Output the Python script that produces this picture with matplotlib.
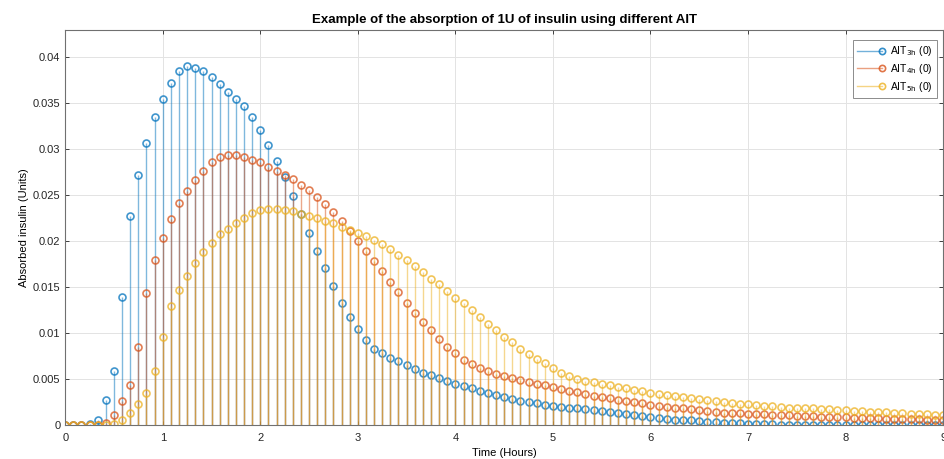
import numpy as np
import matplotlib
matplotlib.use('Agg')
import matplotlib.pyplot as plt
from matplotlib.lines import Line2D
from matplotlib.legend_handler import HandlerBase
from matplotlib.ticker import FuncFormatter

# sample grid: one sample every 5 minutes over 9 hours
minutes = np.arange(0, 545, 5)
time_h = minutes / 60.0

ait_3h = [
    0, 0, 0, 0.0001, 0.0006, 0.0027, 0.0059, 0.0139, 0.0227, 0.0271,
    0.0306, 0.0334, 0.0354, 0.0371, 0.0384, 0.0390, 0.0388, 0.0384, 0.0378, 0.0370,
    0.0362, 0.0354, 0.0346, 0.0334, 0.0320, 0.0304, 0.0287, 0.0269, 0.0249, 0.0229,
    0.0209, 0.0189, 0.0170, 0.0151, 0.0133, 0.0117, 0.0104, 0.0092, 0.0083, 0.0078,
    0.0073, 0.0069, 0.0065, 0.0061, 0.0057, 0.0054, 0.0051, 0.0048, 0.0045, 0.0042,
    0.0040, 0.0037, 0.0035, 0.0033, 0.0030, 0.0028, 0.0026, 0.0025, 0.0024, 0.0022,
    0.0021, 0.0020, 0.0019, 0.0018, 0.0017, 0.0016, 0.0015, 0.0014, 0.0013, 0.0012,
    0.0011, 0.0010, 0.0009, 0.0008, 0.0007, 0.0006, 0.0005, 0.0005, 0.0004, 0.0003,
    0.0003, 0.0002, 0.0002, 0.0002, 0.0001, 0.0001, 0.0001, 0.0001, 0, 0,
    0, 0, 0, 0, 0, 0, 0, 0, 0, 0,
    0, 0, 0, 0, 0, 0, 0, 0, 0,
]

ait_4h = [
    0, 0, 0, 0, 0, 0.0002, 0.0011, 0.0026, 0.0044, 0.0085,
    0.0143, 0.0179, 0.0203, 0.0224, 0.0241, 0.0254, 0.0266, 0.0276, 0.0285, 0.0291,
    0.0293, 0.0293, 0.0291, 0.0288, 0.0285, 0.0280, 0.0276, 0.0271, 0.0267, 0.0261,
    0.0255, 0.0248, 0.0240, 0.0231, 0.0221, 0.0211, 0.0200, 0.0189, 0.0178, 0.0167,
    0.0155, 0.0144, 0.0133, 0.0122, 0.0112, 0.0103, 0.0093, 0.0085, 0.0078, 0.0071,
    0.0066, 0.0062, 0.0059, 0.0055, 0.0053, 0.0051, 0.0049, 0.0047, 0.0045, 0.0043,
    0.0041, 0.0039, 0.0037, 0.0036, 0.0034, 0.0032, 0.0030, 0.0029, 0.0027, 0.0026,
    0.0025, 0.0024, 0.0022, 0.0021, 0.0020, 0.0019, 0.0018, 0.0017, 0.0016, 0.0015,
    0.0014, 0.0013, 0.0013, 0.0013, 0.0012, 0.0012, 0.0012, 0.0011, 0.0011, 0.0011,
    0.0010, 0.0010, 0.0010, 0.0009, 0.0009, 0.0009, 0.0009, 0.0008, 0.0008, 0.0008,
    0.0008, 0.0007, 0.0007, 0.0007, 0.0007, 0.0007, 0.0006, 0.0006, 0.0006,
]

ait_5h = [
    0, 0, 0, 0, 0, 0, 0.0001, 0.0005, 0.0013, 0.0023,
    0.0035, 0.0059, 0.0096, 0.0129, 0.0147, 0.0162, 0.0176, 0.0188, 0.0198, 0.0207,
    0.0213, 0.0219, 0.0225, 0.0230, 0.0233, 0.0234, 0.0234, 0.0233, 0.0232, 0.0229,
    0.0227, 0.0225, 0.0222, 0.0219, 0.0215, 0.0212, 0.0209, 0.0205, 0.0201, 0.0196,
    0.0191, 0.0185, 0.0179, 0.0173, 0.0166, 0.0159, 0.0153, 0.0146, 0.0138, 0.0132,
    0.0125, 0.0117, 0.0110, 0.0103, 0.0096, 0.0090, 0.0083, 0.0077, 0.0072, 0.0067,
    0.0062, 0.0057, 0.0053, 0.0050, 0.0048, 0.0047, 0.0045, 0.0043, 0.0041, 0.0040,
    0.0038, 0.0037, 0.0035, 0.0034, 0.0033, 0.0031, 0.0030, 0.0029, 0.0028, 0.0027,
    0.0026, 0.0025, 0.0024, 0.0023, 0.0023, 0.0022, 0.0021, 0.0021, 0.0020, 0.0019,
    0.0019, 0.0018, 0.0018, 0.0017, 0.0017, 0.0016, 0.0016, 0.0015, 0.0015, 0.0014,
    0.0014, 0.0014, 0.0013, 0.0013, 0.0012, 0.0012, 0.0012, 0.0011, 0.0011,
]

labels = [r'AIT$_{\mathrm{3h}}$ (0)', r'AIT$_{\mathrm{4h}}$ (0)', r'AIT$_{\mathrm{5h}}$ (0)']
colors = ['#0072bd', '#d95319', '#edb120']
series = [ait_3h, ait_4h, ait_5h]

plt.rcParams['font.family'] = ['Liberation Sans', 'DejaVu Sans']


class StemLegend(HandlerBase):
    """MATLAB-like legend entry: short line with the marker at its right end."""
    def create_artists(self, legend, orig, xd, yd, w, h, fs, trans):
        y = h / 2 - yd
        c = orig.get_color()
        line = Line2D([-xd, -xd + w], [y, y], color=c, lw=1.0, alpha=0.55)
        mark = Line2D([-xd + w], [y], marker='o', ms=4.5, mfc='none', mec=c,
                      mew=1.2, ls='none', alpha=0.8)
        line.set_transform(trans)
        mark.set_transform(trans)
        return [line, mark]


fig = plt.figure(figsize=(9.45, 4.59), dpi=100)
ax = fig.add_axes([0.069, 0.074, 0.929, 0.861])

handles = []
for vals, col in zip(series, colors):
    markers, stems, base = ax.stem(time_h, vals, basefmt=' ')
    stems.set_color(col)
    stems.set_linewidth(1.0)
    stems.set_alpha(0.5)
    markers.set_marker('o')
    markers.set_markersize(5)
    markers.set_markerfacecolor('none')
    markers.set_markeredgecolor(col)
    markers.set_markeredgewidth(1.2)
    markers.set_alpha(0.75)
    handles.append(Line2D([], [], color=col))

ax.set_xlim(0, 9)
ax.set_ylim(0, 0.0429)
ax.set_xticks(range(0, 10))
ax.set_yticks(np.arange(0, 0.0401, 0.005))
ax.yaxis.set_major_formatter(FuncFormatter(lambda v, p: f'{v:g}' if v else '0'))

ax.grid(True, color='#e3e3e3', linewidth=0.7)
ax.set_axisbelow(True)
ax.tick_params(direction='in', top=True, right=True, labelsize=8,
               colors='#262626', length=3, width=0.6)
ax.tick_params(axis='x', pad=6)
for sp in ax.spines.values():
    sp.set_color('#707070')
    sp.set_linewidth(0.8)

ax.set_title('Example of the absorption of 1U of insulin using different AIT',
             fontsize=9.5, fontweight='bold', pad=5)
ax.set_xlabel('Time (Hours)', fontsize=8, labelpad=3)
ax.set_ylabel('Absorbed insulin (Units)', fontsize=8, labelpad=3)

leg = ax.legend(handles, labels, handler_map={Line2D: StemLegend()},
                loc='upper right', bbox_to_anchor=(0.993, 0.975), borderaxespad=0,
                fontsize=7.5, fancybox=False, framealpha=1, edgecolor='#8c8c8c',
                handlelength=2.4, handletextpad=0.7, labelspacing=0.35,
                borderpad=0.45)
leg.get_frame().set_linewidth(0.7)

fig.savefig('out.png', dpi=100)
